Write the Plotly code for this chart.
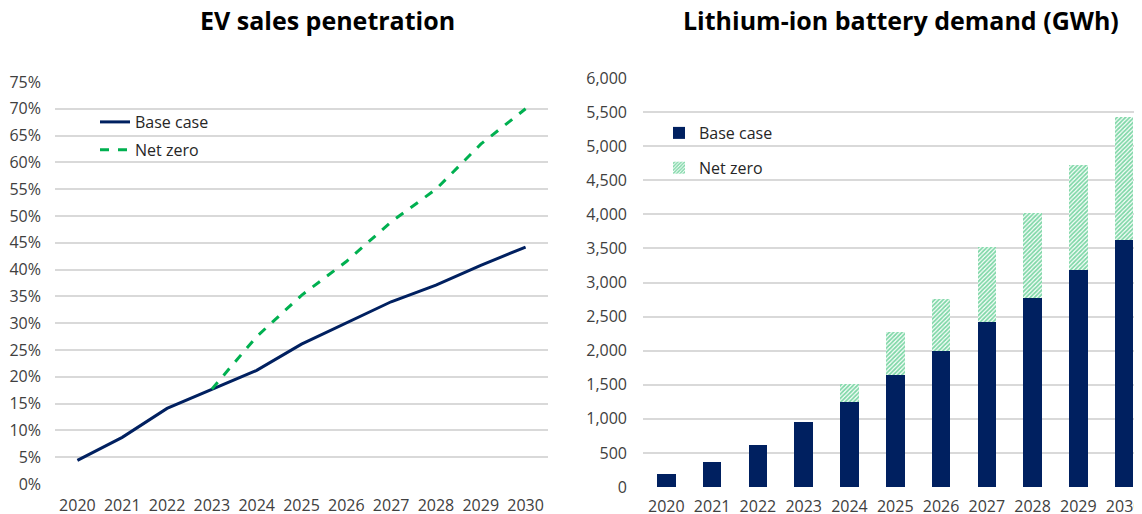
import plotly.graph_objects as go

years = ["2020", "2021", "2022", "2023", "2024", "2025", "2026", "2027", "2028", "2029", "2030"]

# EV sales penetration (%)
ev_base = [4.4, 8.7, 14.1, 17.7, 21.2, 26.1, 30.1, 34.0, 37.1, 40.8, 44.2]
ev_netzero = [None, None, None, 17.7, 27.5, 35.2, 41.5, 48.9, 55.0, 63.4, 70.0]

# Lithium-ion battery demand (GWh)
bat_base = [190, 367, 617, 949, 1253, 1649, 1997, 2418, 2775, 3186, 3626]
bat_netzero_extra = [0, 0, 0, 0, 259, 632, 758, 1101, 1248, 1532, 1797]

pct_ticks = list(range(0, 80, 5))
gwh_ticks = list(range(0, 6500, 500))

NAVY = "#002060"
GREEN = "#00B050"
GRID = "#D9D9D9"
TXT = "#404040"
FONT = "Open Sans"

# page has an 8px body margin: figure is drawn 8px in from top-left
OFF = 8
W, H = 1142 - OFF, 514 - OFF

fig = go.Figure()

fig.add_trace(go.Scatter(
    x=list(range(len(years))), y=ev_base, mode="lines", name="Base case",
    line=dict(color=NAVY, width=3), xaxis="x", yaxis="y",
    legend="legend", legendgroup="a"))
fig.add_trace(go.Scatter(
    x=list(range(len(years))), y=ev_netzero, mode="lines", name="Net zero",
    line=dict(color=GREEN, width=3, dash="dash"), xaxis="x", yaxis="y",
    legend="legend", legendgroup="b", connectgaps=False))

fig.add_trace(go.Bar(
    x=list(range(len(years))), y=bat_base, name="Base case",
    marker=dict(color=NAVY, line=dict(width=0)), width=0.405,
    xaxis="x2", yaxis="y2", legend="legend2", legendgroup="c"))
fig.add_trace(go.Bar(
    x=list(range(len(years))), y=bat_netzero_extra, name="Net zero",
    marker=dict(color=GREEN, line=dict(width=0),
                pattern=dict(shape="/", fgcolor=GREEN, bgcolor="white",
                             size=3, solidity=0.6)),
    width=0.405, xaxis="x2", yaxis="y2", legend="legend2", legendgroup="d"))

def px_x(p):
    return (p - OFF) / W

def px_y(p):
    return 1 - (p - OFF) / H

common_axis = dict(showline=False, zeroline=False, ticks="", automargin=False,
                   tickfont=dict(family=FONT, size=16, color=TXT))

fig.update_layout(
    width=W, height=H,
    margin=dict(l=0, r=0, t=0, b=0),
    paper_bgcolor="white", plot_bgcolor="white",
    barmode="stack",
    font=dict(family=FONT, size=16, color=TXT),
    xaxis=dict(domain=[px_x(55), px_x(548)], range=[-0.5, 10.5],
               tickmode="array", tickvals=list(range(len(years))), ticktext=years,
               showgrid=False, anchor="y", ticklabelstandoff=10, **common_axis),
    yaxis=dict(domain=[px_y(484), px_y(82)], range=[0, 75],
               tickmode="array", tickvals=pct_ticks,
               ticktext=[f"{v}%" for v in pct_ticks],
               showgrid=True, gridcolor=GRID, gridwidth=1.5, anchor="x",
               ticklabelstandoff=13, **common_axis),
    xaxis2=dict(domain=[px_x(643), 1.0], range=[-0.51, 10.39],
                tickmode="array", tickvals=list(range(len(years))), ticktext=years,
                showgrid=False, anchor="y2", ticklabelstandoff=8,
                ticklabeloverflow="allow", **common_axis),
    yaxis2=dict(domain=[px_y(487), px_y(78)], range=[0, 6000],
                tickmode="array", tickvals=gwh_ticks,
                ticktext=[f"{v:,}" for v in gwh_ticks],
                showgrid=True, gridcolor=GRID, gridwidth=1.5, anchor="x2",
                ticklabelstandoff=15, **common_axis),
    legend=dict(x=px_x(95), y=px_y(105), xanchor="left", yanchor="top",
                bgcolor="rgba(0,0,0,0)", font=dict(family=FONT, size=16, color="#262626"),
                tracegroupgap=4, itemwidth=30),
    legend2=dict(x=px_x(659), y=px_y(116), xanchor="left", yanchor="top",
                 bgcolor="rgba(0,0,0,0)", font=dict(family=FONT, size=16, color="#262626"),
                 tracegroupgap=11, itemwidth=30),
    annotations=[
        dict(text="<b>EV sales penetration</b>", x=px_x(327.5), y=px_y(20),
             xref="paper", yref="paper", showarrow=False, xanchor="center", yanchor="middle",
             font=dict(family=FONT, size=25, color="black")),
        dict(text="<b>Lithium-ion battery demand (GWh)</b>", x=px_x(901), y=px_y(20),
             xref="paper", yref="paper", showarrow=False, xanchor="center", yanchor="middle",
             font=dict(family=FONT, size=25, color="black")),
    ],
)

fig.write_html("out.html")
